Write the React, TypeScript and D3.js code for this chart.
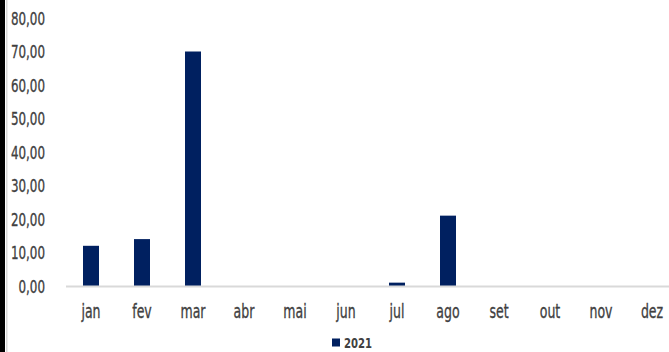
import React from "react";
import * as d3 from "d3";

const months = ["jan", "fev", "mar", "abr", "mai", "jun", "jul", "ago", "set", "out", "nov", "dez"];
const values2021 = [12, 14, 70, 0, 0, 0, 1, 21, 0, 0, 0, 0];
const yTicks = [0, 10, 20, 30, 40, 50, 60, 70, 80];
const seriesName = "2021";

const W = 669;
const H = 352;
const FONT = "'DejaVu Sans', sans-serif";
const SX = 0.66;

function CText(props: { x: number; y: number; anchor: string; size: number; weight?: string; sx?: number; children: any }) {
  const s = props.sx ?? SX;
  return (
    <g transform={`translate(${props.x},${props.y}) scale(${s},1)`}>
      <text
        textAnchor={props.anchor}
        fontFamily={FONT}
        fontSize={props.size}
        fontWeight={props.weight ?? "normal"}
        fill="#404040"
        stroke="#404040"
        strokeWidth={props.weight === "bold" ? 0 : 0.35}
      >
        {props.children}
      </text>
    </g>
  );
}

export default function App() {
  const x = d3.scaleBand<string>().domain(months).range([65.5, 677.5]);
  const y = d3.scaleLinear().domain([0, 80]).range([286, 18]);
  const fmt = (v: number) => v.toFixed(2).replace(".", ",");
  const bw = 16;
  return (
    <svg width={W} height={H} style={{ position: "absolute", left: 0, top: 0, background: "#fff" }}>
      <rect x={0} y={0} width={5} height={H} fill="#000" />
      <rect x={6} y={0} width={1.5} height={H} fill="#d9d9d9" />
      {yTicks.map((t) => (
        <CText key={t} x={45} y={y(t) + 6.5} anchor="end" size={18}>
          {fmt(t)}
        </CText>
      ))}
      {months.map((m, i) => {
        const cx = (x(m) as number) + x.bandwidth() / 2;
        const v = values2021[i];
        return (
          <g key={m}>
            {v > 0 && <rect x={cx - bw / 2} y={y(v)} width={bw} height={y(0) - y(v)} fill="#002060" />}
            <CText x={cx} y={318} anchor="middle" size={19}>
              {m}
            </CText>
          </g>
        );
      })}
      <line x1={66} x2={W} y1={286.5} y2={286.5} stroke="#d9d9d9" strokeWidth={2} />
      <rect x={332} y={338.5} width={8} height={8} fill="#002060" />
      <CText x={344} y={348} anchor="start" size={14} weight="bold" sx={0.72}>
        {seriesName}
      </CText>
    </svg>
  );
}
